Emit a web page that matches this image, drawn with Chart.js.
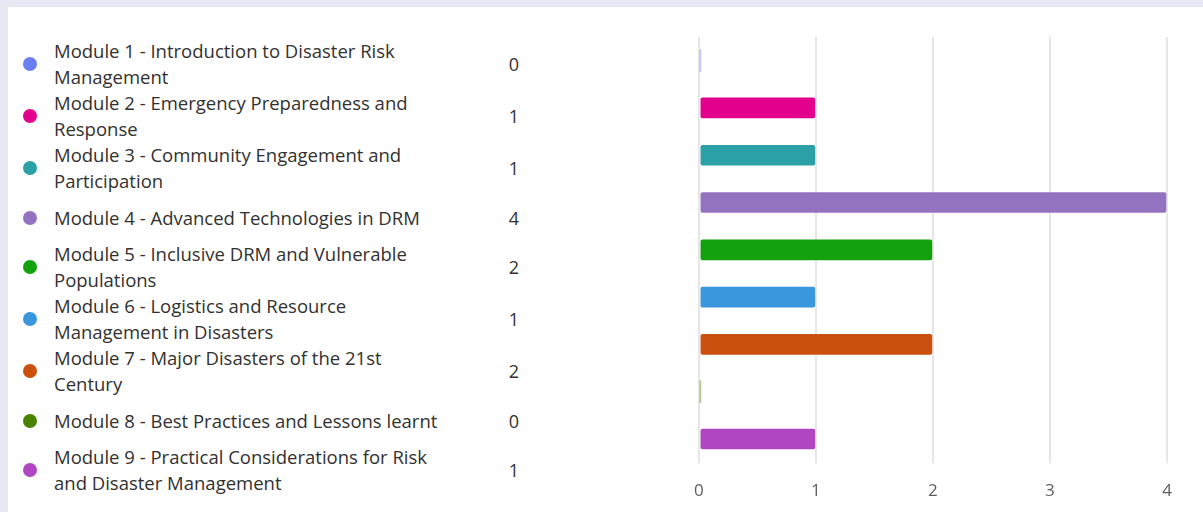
<!DOCTYPE html>
<html>
<head>
<meta charset="utf-8">
<script src="https://cdn.jsdelivr.net/npm/chart.js@4.4.1/dist/chart.umd.min.js"></script>
<style>
  html, body { margin: 0; padding: 0; }
  body {
    width: 1203px; height: 512px; overflow: hidden;
    background: #e6e8f4;
    font-family: 'Open Sans', 'Noto Sans', sans-serif;
    color: #323130;
  }
  .panel {
    position: absolute; left: 8px; top: 7px; right: 0; bottom: 0;
    background: #ffffff;
  }
  #legend {
    position: absolute; left: 23px; top: 38px;
    list-style: none; margin: 0; padding: 0;
  }
  #legend li {
    display: flex; align-items: center;
    min-height: 47px;
  }
  #legend .dot {
    width: 14px; height: 14px; border-radius: 50%;
    flex: 0 0 14px; margin-right: 17px;
  }
  #legend .name {
    width: 392px; font-size: 18.5px; line-height: 26px;
  }
  #legend .count {
    width: 80px; margin-left: 28px; text-align: center;
    font-size: 18px; color: #323130;
  }
  .chart-box {
    position: absolute; left: 676px; top: 26px; width: 527px; height: 505px;
  }
</style>
</head>
<body>
<div class="panel"></div>
<ul id="legend"></ul>
<div class="chart-box"><canvas id="barChart"></canvas></div>
<script>
var modules = [
    'Module 1 - Introduction to Disaster Risk Management',
    'Module 2 - Emergency Preparedness and Response',
    'Module 3 - Community Engagement and Participation',
    'Module 4 - Advanced Technologies in DRM',
    'Module 5 - Inclusive DRM and Vulnerable Populations',
    'Module 6 - Logistics and Resource Management in Disasters',
    'Module 7 - Major Disasters of the 21st Century',
    'Module 8 - Best Practices and Lessons learnt',
    'Module 9 - Practical Considerations for Risk and Disaster Management'
];
var responses = [0, 1, 1, 4, 2, 1, 2, 0, 1];
var colors = ['#6b80f0', '#e3008c', '#2ca0a7', '#9373c0', '#13a10e', '#3a96dd', '#ca5010', '#498205', '#b146c2'];
var xTicks = [0, 1, 2, 3, 4];

// legend list with counts on the left
var legend = document.getElementById('legend');
modules.forEach(function (name, i) {
    var li = document.createElement('li');
    li.innerHTML = '<span class="dot" style="background:' + colors[i] + '"></span>' +
        '<span class="name">' + name + '</span>' +
        '<span class="count">' + responses[i] + '</span>';
    legend.appendChild(li);
});

// zero answers still get a faint sliver at the axis
function barColor(ctx) {
    var c = colors[ctx.dataIndex];
    return responses[ctx.dataIndex] === 0 ? c + '70' : c;
}
function barBorder(ctx) {
    return responses[ctx.dataIndex] === 0 ? 0 : 1;
}

var ctx = document.getElementById('barChart');
var myChart = new Chart(ctx, {
    type: 'bar',
    data: {
        labels: modules,
        datasets: [{
            data: responses,
            backgroundColor: barColor,
            borderColor: 'rgba(255,255,255,0.4)',
            borderWidth: barBorder,
            borderSkipped: false,
            borderRadius: 3,
            barThickness: 22,
            minBarLength: 2
        }]
    },
    options: {
        indexAxis: 'y',
        responsive: true,
        maintainAspectRatio: false,
        animation: false,
        layout: {
            padding: { left: 15, right: 36, top: 11, bottom: 12 }
        },
        plugins: {
            legend: { display: false },
            tooltip: { enabled: false }
        },
        scales: {
            x: {
                min: xTicks[0],
                max: xTicks[xTicks.length - 1],
                afterBuildTicks: function (axis) {
                    axis.ticks = xTicks.map(function (v) { return { value: v }; });
                },
                grid: { color: '#e6e6e6', lineWidth: 2, drawTicks: false },
                border: { display: false },
                ticks: {
                    padding: 18,
                    color: '#605e5c',
                    font: { family: "'Open Sans', sans-serif", size: 17 }
                }
            },
            y: {
                display: false
            }
        }
    }
});
</script>
</body>
</html>
